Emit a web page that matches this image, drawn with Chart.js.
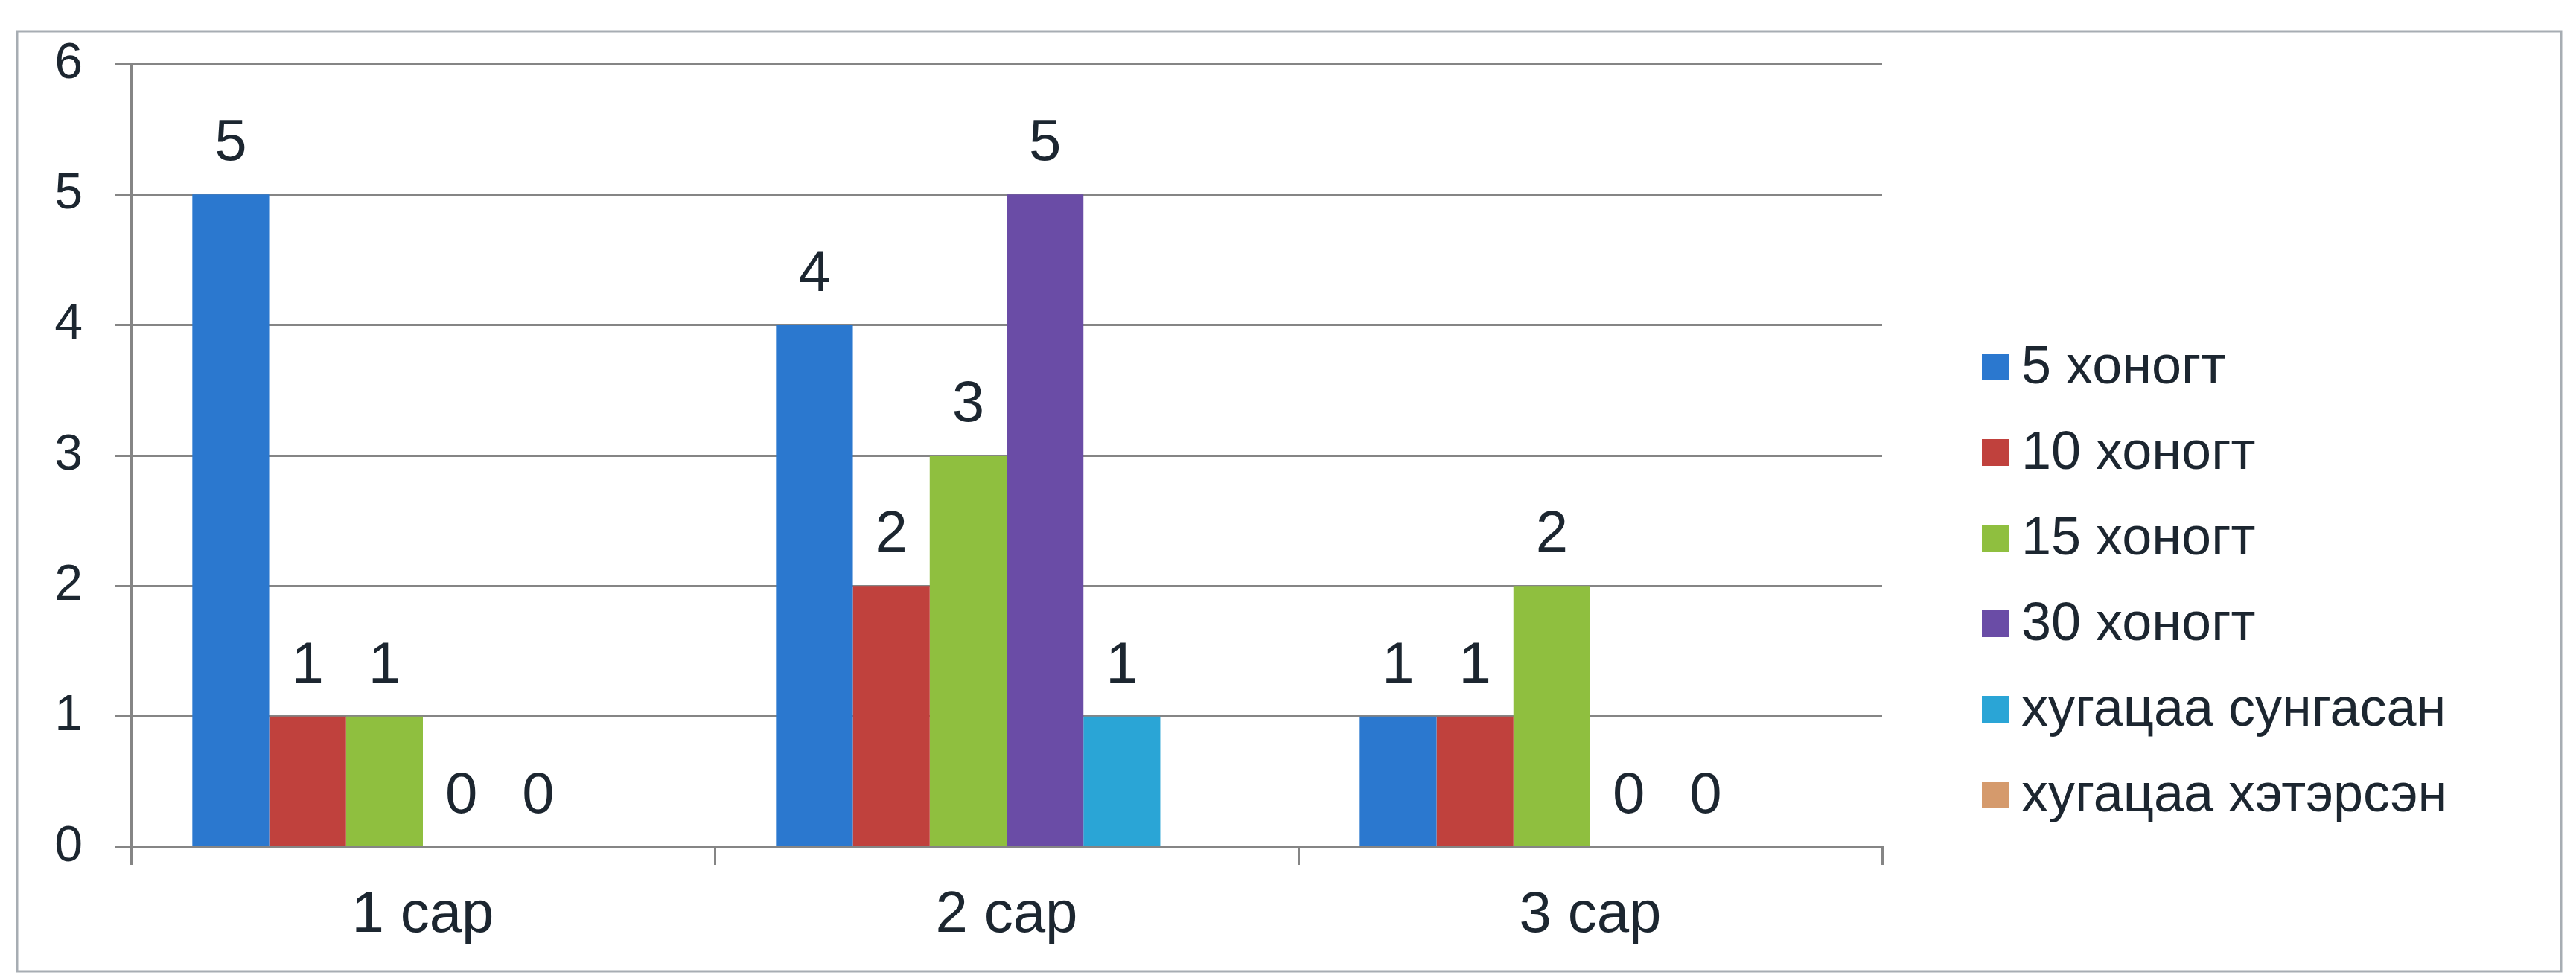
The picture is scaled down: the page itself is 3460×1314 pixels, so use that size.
<!DOCTYPE html>
<html>
<head>
<meta charset="utf-8">
<script src="https://cdn.jsdelivr.net/npm/chart.js@4.4.1/dist/chart.umd.min.js"></script>
<style>
  html, body { margin: 0; padding: 0; background: #fff; }
  #wrap { width: 3460px; height: 1314px; }
</style>
</head>
<body>
<div id="wrap"><canvas id="chart" width="3460" height="1314"></canvas></div>
<script>
// data
const months = ['1 сар', '2 сар', '3 сар'];
const seriesNames = ['5 хоногт', '10 хоногт', '15 хоногт', '30 хоногт', 'хугацаа сунгасан', 'хугацаа хэтэрсэн'];
const days5 = [5, 4, 1];
const days10 = [1, 2, 1];
const days15 = [1, 3, 2];
const days30 = [0, 5, 0];
const extended = [0, 1, 0];
const overdue = [null, null, null];
const yTicks = [0, 1, 2, 3, 4, 5, 6];

const colors = ['#2b78cf', '#c0413d', '#8fbf3f', '#6a4ca6', '#2aa5d6', '#d59a6c'];
const textColor = '#1c2630';
const gridColor = '#858585';
const font = 'Liberation Sans';

const seriesValues = [days5, days10, days15, days30, extended, overdue];

// value labels above each bar
const valueLabels = {
  id: 'valueLabels',
  afterDatasetsDraw(chart) {
    const ctx = chart.ctx;
    ctx.save();
    ctx.font = '78px "' + font + '"';
    ctx.fillStyle = textColor;
    ctx.textAlign = 'center';
    ctx.textBaseline = 'alphabetic';
    chart.data.datasets.forEach((ds, i) => {
      const meta = chart.getDatasetMeta(i);
      meta.data.forEach((bar, j) => {
        const v = ds.data[j];
        if (v === null || v === undefined) return;
        ctx.fillText(String(v), bar.x, bar.y - 46);
      });
    });
    ctx.restore();
  }
};

// legend on the right, plus the outer frame
const sideLegend = {
  id: 'sideLegend',
  beforeDraw(chart) {
    const ctx = chart.ctx;
    ctx.save();
    ctx.fillStyle = '#fff';
    ctx.fillRect(0, 0, chart.width, chart.height);
    ctx.strokeStyle = '#a7adb3';
    ctx.lineWidth = 3;
    ctx.strokeRect(23, 42, 3440 - 23, 1305 - 42);
    ctx.restore();
  },
  afterDraw(chart) {
    const ctx = chart.ctx;
    ctx.save();
    ctx.font = '72px "' + font + '"';
    ctx.textBaseline = 'middle';
    ctx.textAlign = 'left';
    chart.data.datasets.forEach((ds, i) => {
      const cy = 493 + i * 115;
      ctx.fillStyle = ds.backgroundColor;
      ctx.fillRect(2662, cy - 18, 36, 36);
      ctx.fillStyle = textColor;
      ctx.fillText(ds.label, 2715, cy + 2);
    });
    ctx.restore();
  }
};

new Chart(document.getElementById('chart'), {
  type: 'bar',
  data: {
    labels: months,
    datasets: seriesNames.map((name, i) => ({
      label: name,
      data: seriesValues[i],
      backgroundColor: colors[i],
      borderWidth: 0,
      categoryPercentage: 0.79,
      barPercentage: 1.0
    }))
  },
  options: {
    responsive: false,
    animation: false,
    devicePixelRatio: 1,
    layout: { padding: { top: 86, right: 932, left: 0, bottom: 0 } },
    plugins: {
      legend: { display: false },
      tooltip: { enabled: false }
    },
    scales: {
      x: {
        offset: true,
        grid: {
          offset: true,
          drawOnChartArea: false,
          drawTicks: true,
          tickLength: 24,
          color: gridColor,
          lineWidth: 3
        },
        border: { display: true, color: gridColor, width: 3 },
        ticks: {
          color: textColor,
          font: { family: font, size: 78 },
          padding: 22
        },
        afterFit(scale) { scale.height = 1314 - 1138; }
      },
      y: {
        min: 0,
        max: 6,
        afterBuildTicks(scale) { scale.ticks = yTicks.map(v => ({ value: v })); },
        grid: {
          color: gridColor,
          lineWidth: 3,
          drawTicks: true,
          tickLength: 22
        },
        border: { display: true, color: gridColor, width: 3 },
        ticks: {
          color: textColor,
          font: { family: font, size: 68 },
          padding: 43
        },
        afterFit(scale) { scale.width = 176; }
      }
    }
  },
  plugins: [valueLabels, sideLegend]
});
</script>
</body>
</html>
